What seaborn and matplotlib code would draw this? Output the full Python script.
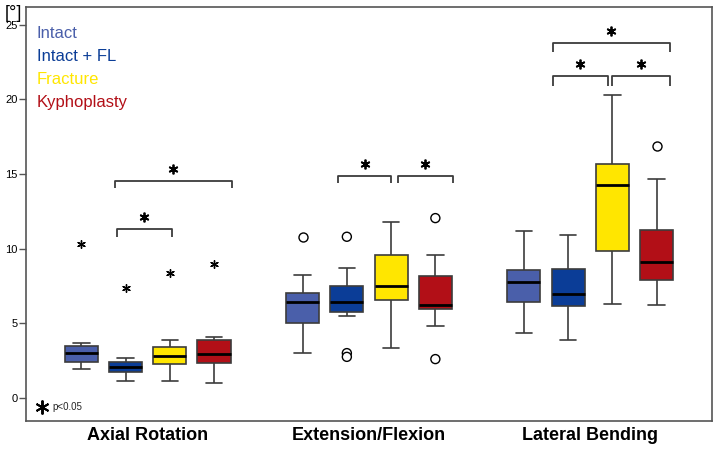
import numpy as np
import pandas as pd
import matplotlib
matplotlib.use("Agg")
import matplotlib.pyplot as plt
import seaborn as sns

tests = ["Axial Rotation", "Extension/Flexion", "Lateral Bending"]
groups = ["Intact", "Intact + FL", "Fracture", "Kyphoplasty"]
colors = ["#4A5FAA", "#0B3D97", "#FFE600", "#B20F17"]

# five-number summaries:
# lower whisker, Q1, median, Q3, upper whisker (one list per group)
axial_rotation = [
    [1.93, 2.42, 3.04, 3.50, 3.70],
    [1.12, 1.72, 2.06, 2.40, 2.70],
    [1.16, 2.28, 2.82, 3.44, 3.87],
    [1.03, 2.33, 2.97, 3.85, 4.11],
]
extension_flexion = [
    [3.00, 5.00, 6.40, 7.05, 8.26],
    [5.46, 5.75, 6.46, 7.50, 8.70],
    [3.33, 6.53, 7.47, 9.60, 11.80],
    [4.85, 5.95, 6.20, 8.17, 9.55],
]
lateral_bending = [
    [4.38, 6.40, 7.80, 8.60, 11.16],
    [3.85, 6.17, 6.96, 8.66, 10.90],
    [6.26, 9.84, 14.27, 15.66, 20.30],
    [6.24, 7.92, 9.10, 11.23, 14.65],
]

# extreme values (stars) and outliers (circles): test, group, value
extreme_test = ["Axial Rotation"] * 4
extreme_group = ["Intact", "Intact + FL", "Fracture", "Kyphoplasty"]
extreme_value = [10.3, 7.35, 8.4, 8.95]

outlier_test = ["Extension/Flexion"] * 6 + ["Lateral Bending"]
outlier_group = ["Intact", "Intact + FL", "Intact + FL", "Intact + FL",
                 "Kyphoplasty", "Kyphoplasty", "Kyphoplasty"]
outlier_value = [10.8, 10.8, 3.0, 2.75, 12.05, 2.6, 16.85]

# significance brackets: test index, left / right offset, height, tip length
brackets = [
    (0, -0.14, 0.11, 11.3, 0.5),
    (0, -0.15, 0.38, 14.55, 0.5),
    (1, -0.14, 0.10, 14.9, 0.5),
    (1, 0.13, 0.38, 14.9, 0.5),
    (2, -0.17, 0.36, 23.8, 0.65),
    (2, -0.17, 0.08, 21.55, 0.65),
    (2, 0.10, 0.36, 21.55, 0.65),
]

rows = []
for test, summary in zip(tests, [axial_rotation, extension_flexion, lateral_bending]):
    for group, vals in zip(groups, summary):
        for v in vals:
            rows.append((test, group, v))
box_df = pd.DataFrame(rows, columns=["test", "group", "value"])
ext_df = pd.DataFrame({"test": extreme_test, "group": extreme_group, "value": extreme_value})
out_df = pd.DataFrame({"test": outlier_test, "group": outlier_group, "value": outlier_value})

sns.set_style("white")
plt.rcParams["font.family"] = ["Liberation Sans", "DejaVu Sans"]

fig = plt.figure(figsize=(7.18, 4.51), dpi=100)
ax = fig.add_axes([0.0362, 0.0665, 0.9554, 0.918])

line_col = "#3c3c3c"
sns.boxplot(data=box_df, x="test", y="value", hue="group", order=tests,
            hue_order=groups, palette=colors, saturation=1, whis=(0, 100),
            showfliers=False, width=0.8, gap=0.25, linecolor=line_col,
            linewidth=1.2, medianprops=dict(color="black", linewidth=2),
            legend=False, ax=ax)

sns.stripplot(data=out_df, x="test", y="value", hue="group", order=tests,
              hue_order=groups, palette=["white"] * 4, dodge=True, jitter=False,
              marker="o", size=6.5, linewidth=1, edgecolor="black",
              legend=False, ax=ax)
sns.stripplot(data=ext_df, x="test", y="value", hue="group", order=tests,
              hue_order=groups, palette=["black"] * 4, dodge=True, jitter=False,
              marker=(6, 2, 0), size=5.5, linewidth=1, edgecolor="black",
              legend=False, ax=ax)

for i, x0, x1, y, tip in brackets:
    ax.plot([i + x0, i + x0, i + x1, i + x1], [y - tip, y, y, y - tip],
            color=line_col, lw=1.3, solid_capstyle="butt")
    ax.plot(i + (x0 + x1) / 2, y + 0.8, marker=(6, 2, 0), ms=7, mew=1.3,
            color="black")

ax.set_xlim(-0.55, 2.55)
ax.set_ylim(-1.55, 26.2)
ax.set_yticks([0, 5, 10, 15, 20, 25])
ax.set_xlabel("")
ax.set_ylabel("")
ax.tick_params(axis="y", left=True, length=5, width=1, color="#555555",
               labelsize=8, labelcolor="black", pad=1)
ax.tick_params(axis="x", bottom=False, length=0, labelsize=13,
               labelcolor="black", pad=4)
for lab in ax.get_xticklabels():
    lab.set_fontweight("bold")
for sp in ax.spines.values():
    sp.set_visible(True)
    sp.set_color("#555555")
    sp.set_linewidth(1.2)

for k, (g, c) in enumerate(zip(groups, colors)):
    ax.text(0.016, 0.937 - k * 0.0556, g, color=c, fontsize=12,
            transform=ax.transAxes, va="center", ha="left")

ax.plot(0.023, 0.034, marker=(6, 2, 0), ms=10, mew=1.4, color="black",
        transform=ax.transAxes)
ax.text(0.038, 0.034, "p<0.05", fontsize=7, transform=ax.transAxes,
        va="center", ha="left")
fig.text(0.007, 0.99, "[°]", fontsize=13, va="top", ha="left", color="black")

fig.savefig("out.png", dpi=100)
